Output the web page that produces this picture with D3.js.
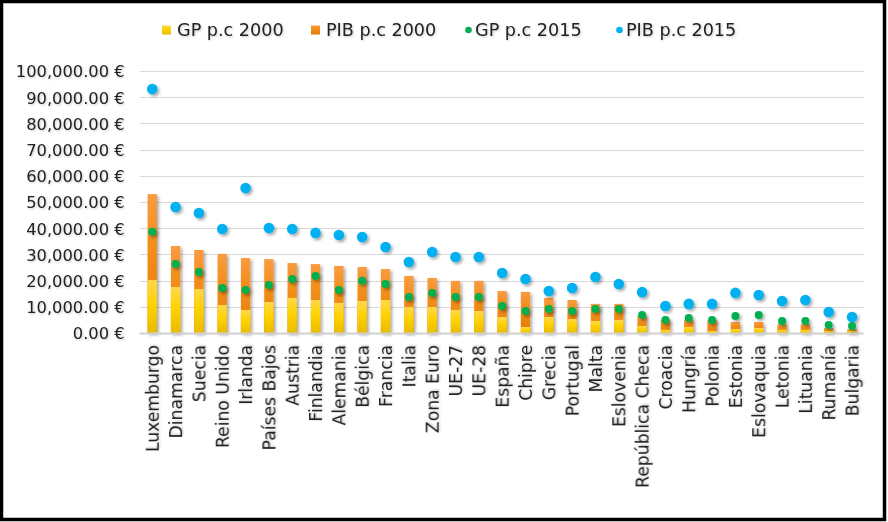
<!DOCTYPE html>
<html>
<head>
<meta charset="utf-8">
<script src="https://cdn.jsdelivr.net/npm/d3@7"></script>
<style>
  body { margin: 0; background: #fff; }
  text { font-family: "DejaVu Sans", sans-serif; fill: #222; }
</style>
</head>
<body>
<div id="chart"></div>
<script>
// Data (euros per capita)
const categories = ['Luxemburgo', 'Dinamarca', 'Suecia', 'Reino Unido', 'Irlanda', 'Países Bajos', 'Austria',
    'Finlandia', 'Alemania', 'Bélgica', 'Francia', 'Italia', 'Zona Euro', 'UE-27', 'UE-28', 'España', 'Chipre',
    'Grecia', 'Portugal', 'Malta', 'Eslovenia', 'República Checa', 'Croacia', 'Hungría', 'Polonia', 'Estonia',
    'Eslovaquia', 'Letonia', 'Lituania', 'Rumanía', 'Bulgaria'];
const gp2000 = [20200, 17600, 16800, 10700, 8800, 11800, 13400, 12600, 11500, 12200, 12600, 9900, 9900, 8800, 8400,
    6100, 2300, 6100, 5300, 4600, 5000, 2700, 1200, 2300, 800, 1500, 1900, 1200, 1200, 800, 800];
const pib2000 = [53000, 33200, 31700, 30200, 28600, 28200, 26700, 26300, 25600, 25200, 24400, 21800, 21000, 19900, 19900,
    16000, 15700, 13400, 12600, 11100, 11100, 6500, 5000, 5000, 5000, 4200, 4200, 3400, 3400, 1900, 1500];
const gp2015 = [38600, 26300, 23300, 17200, 16400, 18300, 20600, 21800, 16400, 19900, 18700, 13700, 15300, 13700, 13700,
    10300, 8400, 9200, 8400, 9200, 9200, 6900, 5000, 5700, 5000, 6500, 6900, 4600, 4600, 3100, 2700];
const pib2015 = [93100, 48100, 45800, 39700, 55300, 40100, 39700, 38200, 37400, 36600, 32800, 27100, 30900, 29000, 29000,
    22900, 20600, 16000, 17200, 21400, 18700, 15600, 10300, 11100, 11100, 15300, 14500, 12200, 12600, 8000, 6100];
const yTicks = [0, 10000, 20000, 30000, 40000, 50000, 60000, 70000, 80000, 90000, 100000];
const legendLabels = ['GP p.c 2000', 'PIB p.c 2000', 'GP p.c 2015', 'PIB p.c 2015'];

const W = 888, H = 522;
const plot = {left: 140.6, right: 863.7, top: 71, bottom: 333};

const svg = d3.select('#chart').append('svg')
    .attr('width', W)
    .attr('height', H);

const defs = svg.append('defs');

// soft shadows like the office chart
const shadow = defs.append('filter').attr('id', 'shadow')
    .attr('x', '-50%').attr('y', '-50%').attr('width', '200%').attr('height', '200%');
shadow.append('feDropShadow')
    .attr('dx', 1.8).attr('dy', 2).attr('stdDeviation', 1.4)
    .attr('flood-color', '#000').attr('flood-opacity', 0.35);

const textShadow = defs.append('filter').attr('id', 'tshadow')
    .attr('x', '-10%').attr('y', '-30%').attr('width', '120%').attr('height', '160%');
textShadow.append('feDropShadow')
    .attr('dx', 1).attr('dy', 1).attr('stdDeviation', 0.8)
    .attr('flood-color', '#000').attr('flood-opacity', 0.22);

function vGradient(id, stops) {
    const g = defs.append('linearGradient').attr('id', id)
        .attr('x1', 0).attr('y1', 0).attr('x2', 0).attr('y2', 1);
    stops.forEach(s => g.append('stop').attr('offset', s[0]).attr('stop-color', s[1]));
}
vGradient('gradOrange', [[0, '#F99B40'], [0.4, '#F28D18'], [1, '#E27B08']]);
vGradient('gradYellow', [[0, '#FFD84C'], [0.45, '#FFD200'], [1, '#E8BC00']]);

svg.append('rect')
    .attr('width', W).attr('height', H)
    .attr('fill', '#fff');

// Scales
const xScale = d3.scaleBand()
    .domain(categories)
    .range([plot.left, plot.right])
    .paddingInner(0.6)
    .paddingOuter(0.3);
const yScale = d3.scaleLinear()
    .domain([0, 100000])
    .range([plot.bottom, plot.top]);

// Gridlines
svg.append('g')
    .selectAll('line')
    .data(yTicks.slice(1))
    .enter()
    .append('line')
    .attr('x1', plot.left - 1)
    .attr('x2', plot.right)
    .attr('y1', d => Math.round(yScale(d)) + 0.5)
    .attr('y2', d => Math.round(yScale(d)) + 0.5)
    .attr('stroke', '#D9D9D9')
    .attr('stroke-width', 1.2);

// Y axis labels
const fmt = d3.format(',.2f');
const yAxis = svg.append('g')
    .attr('transform', `translate(${plot.left - 16}, 0)`)
    .call(d3.axisLeft(yScale).tickValues(yTicks).tickSize(0).tickPadding(0).tickFormat(d => fmt(d) + ' €'));
yAxis.select('.domain').remove();
yAxis.selectAll('text')
    .style('font-family', '"DejaVu Sans", sans-serif')
    .style('font-size', '16.3px')
    .attr('fill', '#222')
    .attr('dy', '0.36em')
    .attr('filter', 'url(#tshadow)');

// Bars: PIB 2000 behind, GP 2000 in front (100% overlap)
const bars = svg.append('g').attr('filter', 'url(#shadow)');
bars.selectAll('.pib')
    .data(categories)
    .enter()
    .append('rect')
    .attr('class', 'pib')
    .attr('x', d => xScale(d))
    .attr('width', xScale.bandwidth())
    .attr('y', (d, i) => yScale(pib2000[i]))
    .attr('height', (d, i) => yScale(0) - yScale(pib2000[i]))
    .attr('fill', 'url(#gradOrange)');
bars.selectAll('.gp')
    .data(categories)
    .enter()
    .append('rect')
    .attr('class', 'gp')
    .attr('x', d => xScale(d))
    .attr('width', xScale.bandwidth())
    .attr('y', (d, i) => yScale(gp2000[i]))
    .attr('height', (d, i) => yScale(0) - yScale(gp2000[i]))
    .attr('fill', 'url(#gradYellow)');

// Baseline
svg.append('line')
    .attr('x1', plot.left - 1).attr('x2', plot.right)
    .attr('y1', yScale(0) + 0.5).attr('y2', yScale(0) + 0.5)
    .attr('stroke', '#D0D0D0')
    .attr('stroke-width', 2);

// Points 2015
const pts = svg.append('g').attr('filter', 'url(#shadow)');
pts.selectAll('.pib15')
    .data(categories)
    .enter()
    .append('circle')
    .attr('cx', d => xScale(d) + xScale.bandwidth() / 2)
    .attr('cy', (d, i) => yScale(pib2015[i]))
    .attr('r', 5.3)
    .style('fill', '#00B0F0');
pts.selectAll('.gp15')
    .data(categories)
    .enter()
    .append('circle')
    .attr('cx', d => xScale(d) + xScale.bandwidth() / 2)
    .attr('cy', (d, i) => yScale(gp2015[i]))
    .attr('r', 4)
    .style('fill', '#00B050');

// X labels, rotated
svg.append('g')
    .selectAll('text')
    .data(categories)
    .enter()
    .append('text')
    .attr('transform', d => `translate(${xScale(d) + xScale.bandwidth() / 2 + 0.5}, 345) rotate(-90)`)
    .attr('text-anchor', 'end')
    .attr('dy', '0.36em')
    .style('font-size', '17.2px')
    .attr('filter', 'url(#tshadow)')
    .text(d => d);

// Legend
const legendX = [162, 311, 465, 616];
const legend = svg.append('g');
legendLabels.forEach((label, i) => {
    const g = legend.append('g').attr('transform', `translate(${legendX[i]}, 30)`);
    if (i < 2) {
        g.append('rect')
            .attr('x', 0).attr('y', -4.5)
            .attr('width', 9).attr('height', 9)
            .attr('fill', i === 0 ? 'url(#gradYellow)' : 'url(#gradOrange)');
    } else {
        g.append('circle')
            .attr('cx', 3.5).attr('cy', 0).attr('r', 3.3)
            .attr('fill', i === 2 ? '#00B050' : '#00B0F0');
    }
    g.append('text')
        .attr('x', i < 2 ? 15 : 10)
        .attr('dy', '0.36em')
        .style('font-size', '17.6px')
        .attr('filter', 'url(#tshadow)')
        .text(label);
});

// Outer border
svg.append('rect')
    .attr('x', 1.5).attr('y', 1.5)
    .attr('width', W - 5).attr('height', H - 4)
    .attr('fill', 'none')
    .attr('stroke', '#000')
    .attr('stroke-width', 3.5);
</script>
</body>
</html>
